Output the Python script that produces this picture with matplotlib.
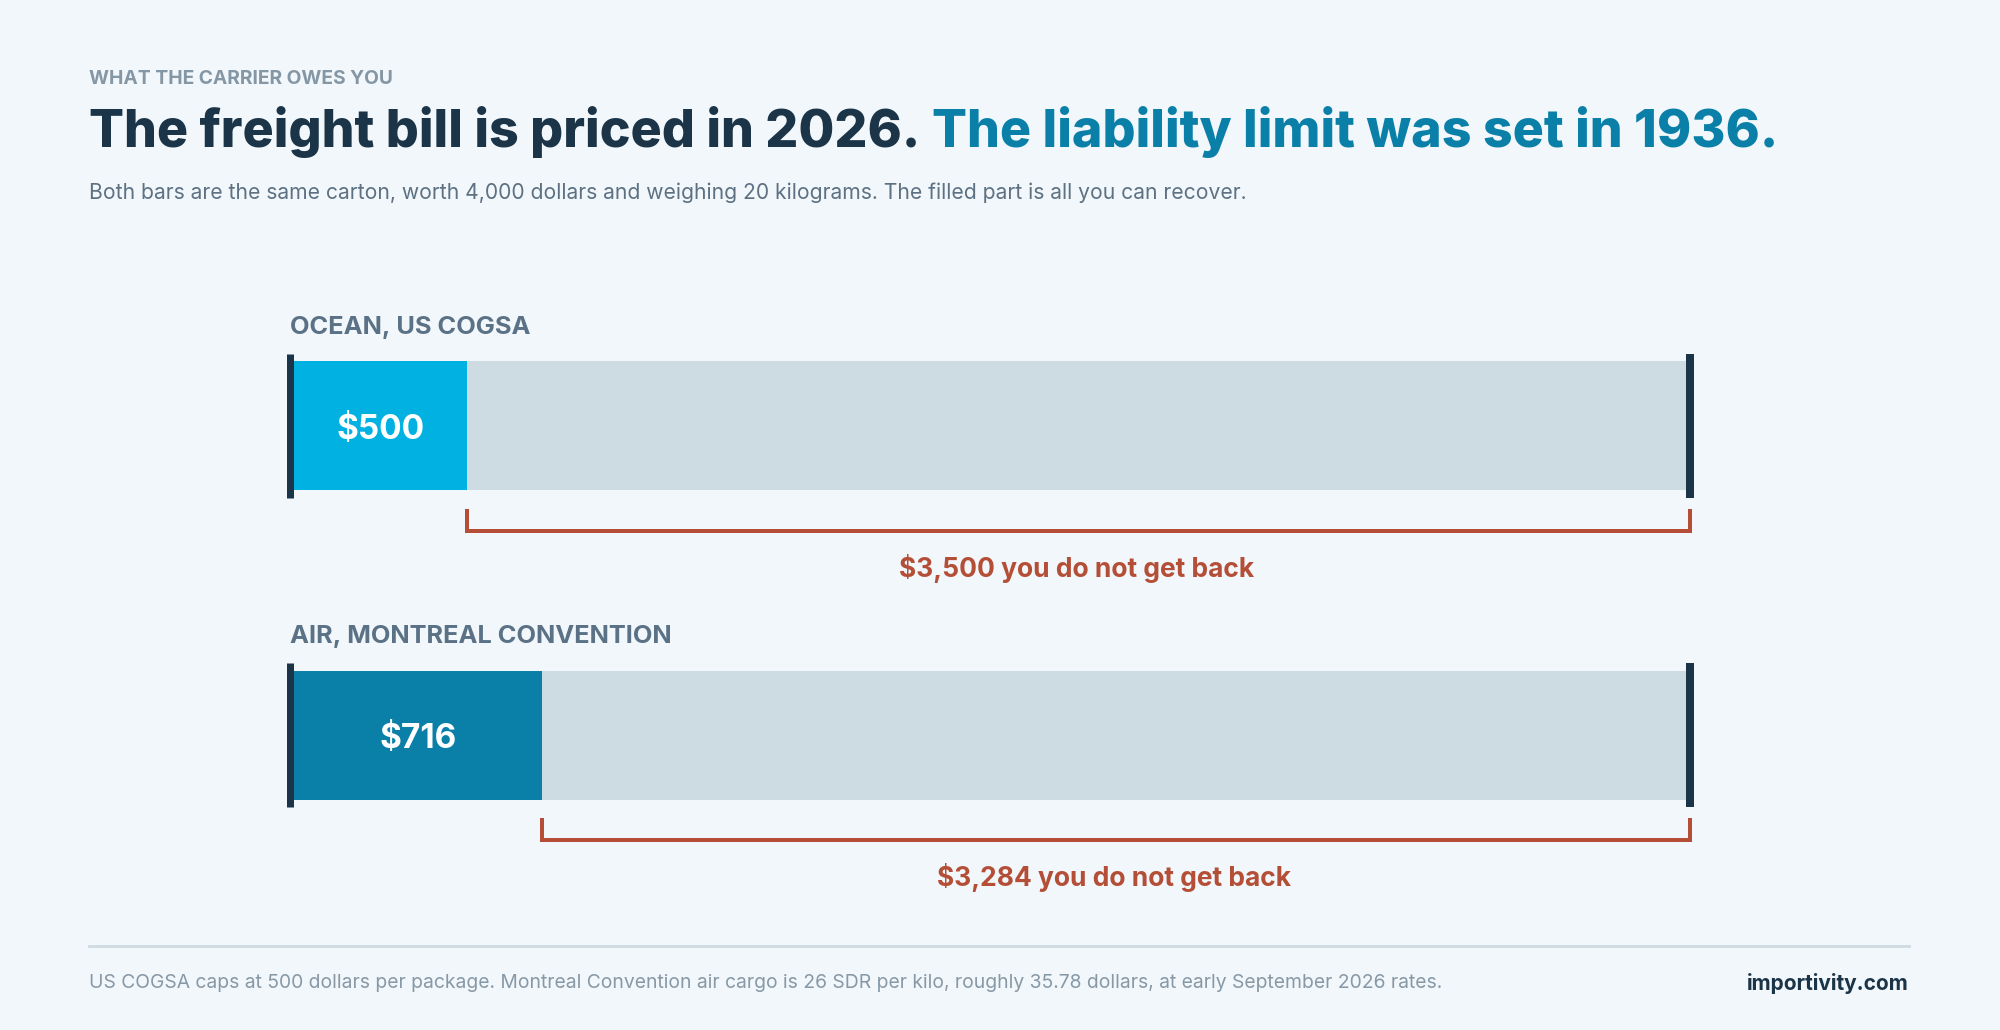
import matplotlib
matplotlib.use("Agg")
import matplotlib.pyplot as plt
import matplotlib.transforms as mtransforms

# ---- data ----
modes = ["OCEAN, US COGSA", "AIR, MONTREAL CONVENTION"]
recoverable = [500, 716]          # dollars the carrier pays
carton_value = 4000               # dollars, both bars
value_labels = ["$500", "$716"]
gap_labels = ["$3,500 you do not get back", "$3,284 you do not get back"]

eyebrow = "WHAT THE CARRIER OWES YOU"
title_a = "The freight bill is priced in 2026. "
title_b = "The liability limit was set in 1936."
subtitle = ("Both bars are the same carton, worth 4,000 dollars and weighing 20 kilograms. "
            "The filled part is all you can recover.")
footer = ("US COGSA caps at 500 dollars per package. Montreal Convention air cargo is 26 SDR "
          "per kilo, roughly 35.78 dollars, at early September 2026 rates.")
brand = "importivity.com"

# ---- colours ----
BG = "#f1f7fb"
DARK = "#1b3447"
TEAL = "#0a80a8"
FILLS = ["#00b1e1", "#0a80a8"]
TRACK = "#cddbe3"
LABEL = "#5a7186"
EYEBROW = "#8597a5"
SUB = "#5d7183"
RUST = "#b44e36"
FOOT = "#8798a6"
RULE = "#cfdbe1"

plt.rcParams["font.family"] = ["Inter", "DejaVu Sans"]

W, H = 2000, 1030
fig = plt.figure(figsize=(W / 100, H / 100), dpi=100, facecolor=BG)
renderer = fig.canvas.get_renderer()


def fx(px):
    return px / W


def fy(py):
    return 1 - py / H


def fit_text(t, width_px):
    # scale font so the text spans the wanted pixel width
    w = t.get_window_extent(renderer).width
    t.set_fontsize(t.get_fontsize() * width_px / w)
    return t


# ---- header ----
t = fig.text(fx(89), fy(79), eyebrow, color=EYEBROW, fontsize=12, fontweight="bold",
             va="center", ha="left")
fit_text(t, 305)

ta = fig.text(fx(89), fy(132), title_a, color=DARK, fontsize=44, fontweight=800,
              va="center", ha="left")
tb = fig.text(fx(89), fy(132), title_b, color=TEAL, fontsize=44, fontweight=800,
              va="center", ha="left")
wa = ta.get_window_extent(renderer).width
wb = tb.get_window_extent(renderer).width
scale = 1688 / (wa + wb)
ta.set_fontsize(44 * scale)
tb.set_fontsize(44 * scale)
wa = ta.get_window_extent(renderer).width
tb.set_x(fx(89 + wa))

t = fig.text(fx(89), fy(193), subtitle, color=SUB, fontsize=15, va="center", ha="left")
fit_text(t, 1157)

# ---- bars ----
x0_px, x1_px = 293, 1686
row0_px, row_step = 425.5, 309.5
top_px, bot_px = 290, 930
ax = fig.add_axes([fx(x0_px), fy(bot_px), (x1_px - x0_px) / W, (bot_px - top_px) / H])
ax.set_xlim(0, carton_value)
ax.set_ylim((bot_px - row0_px) / row_step, (top_px - row0_px) / row_step)
ax.axis("off")
ax.patch.set_alpha(0)

bar_h = 129 / row_step
cap_half = 72 / row_step
rows = list(range(len(modes)))

ax.barh(rows, [carton_value] * len(rows), height=bar_h, color=TRACK, zorder=1)
ax.barh(rows, recoverable, height=bar_h, color=FILLS, zorder=2)

left_shift = mtransforms.offset_copy(ax.transData, fig=fig, x=-3, y=0, units="dots")
right_shift = mtransforms.offset_copy(ax.transData, fig=fig, x=4, y=0, units="dots")
down_shift = mtransforms.offset_copy(ax.transData, fig=fig, x=0, y=-4, units="dots")

for i, (name, v) in enumerate(zip(modes, recoverable)):
    ax.vlines(0, i - cap_half, i + cap_half, color=DARK, lw=7 * 0.72,
              transform=left_shift, zorder=3, clip_on=False)
    ax.vlines(carton_value, i - cap_half, i + cap_half, color=DARK, lw=8 * 0.72,
              transform=right_shift, zorder=3, clip_on=False)

    ax.text(v / 2, i, value_labels[i], color="white", fontsize=24, fontweight="bold",
            ha="center", va="center", zorder=4, transform=down_shift)
    ax.text(0, i - 98.5 / row_step, name, color=LABEL, fontsize=18.3, fontweight="bold",
            ha="left", va="center", transform=left_shift)

    # bracket over the part you lose
    yb0 = i + 85 / row_step
    yb1 = i + 105 / row_step
    ax.plot([v, v, carton_value], [yb0, yb1, yb1], color=RUST, lw=4 * 0.72,
            solid_joinstyle="miter", solid_capstyle="projecting", zorder=3, clip_on=False)
    ax.plot([carton_value, carton_value], [yb1, yb0], color=RUST, lw=4 * 0.72,
            solid_capstyle="projecting", transform=right_shift, zorder=3, clip_on=False)
    ax.text((v + carton_value) / 2, i + 142.5 / row_step, gap_labels[i], color=RUST,
            fontsize=19, fontweight="bold", ha="center", va="center")

# ---- footer ----
fig.add_artist(plt.Line2D([fx(89), fx(1909)], [fy(946), fy(946)], color=RULE, lw=2))
t = fig.text(fx(89), fy(983), footer, color=FOOT, fontsize=14, va="center", ha="left")
fit_text(t, 1354)
fig.text(fx(1909), fy(983), brand, color=DARK, fontsize=15, fontweight="bold",
         va="center", ha="right")

fig.savefig("out.png", dpi=100, facecolor=BG)
